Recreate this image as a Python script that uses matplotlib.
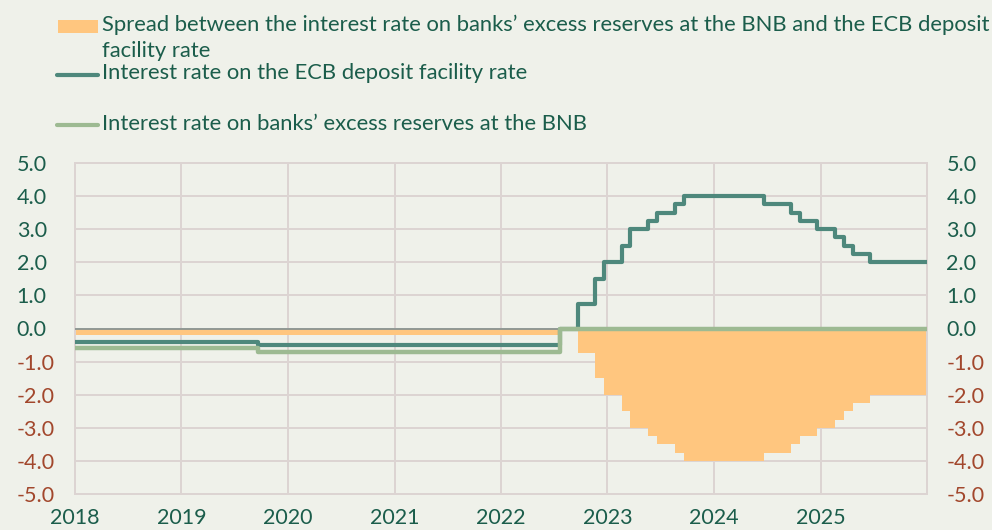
import matplotlib
matplotlib.use("Agg")
import matplotlib.pyplot as plt
from matplotlib.lines import Line2D
from matplotlib.patches import Rectangle
import pandas as pd

# ---- data (step change dates) ----
ecb_dates = ["2018-01-01", "2019-09-21", "2022-07-21", "2022-09-21", "2022-11-21",
             "2022-12-21", "2023-02-21", "2023-03-21", "2023-05-21", "2023-06-21",
             "2023-08-21", "2023-09-21", "2024-06-21", "2024-09-21", "2024-10-21",
             "2024-12-21", "2025-02-21", "2025-03-21", "2025-04-21", "2025-06-21",
             "2026-01-01"]
ecb_rate = [-0.40, -0.50, 0.00, 0.75, 1.50, 2.00, 2.50, 3.00, 3.25, 3.50,
            3.75, 4.00, 3.75, 3.50, 3.25, 3.00, 2.75, 2.50, 2.25, 2.00, 2.00]

bnb_dates = ["2018-01-01", "2019-09-21", "2022-07-21", "2026-01-01"]
bnb_rate = [-0.60, -0.70, 0.00, 0.00]

spread_dates = ecb_dates
spread = [-0.20, -0.20, 0.00, -0.75, -1.50, -2.00, -2.50, -3.00, -3.25, -3.50,
          -3.75, -4.00, -3.75, -3.50, -3.25, -3.00, -2.75, -2.50, -2.25, -2.00, -2.00]

year_ticks = ["2018", "2019", "2020", "2021", "2022", "2023", "2024", "2025"]
y_ticks = [5, 4, 3, 2, 1, 0, -1, -2, -3, -4, -5]

legend_labels = ["Spread between the interest rate on banks\u2019 excess reserves at the BNB and the ECB deposit\nfacility rate",
                 "Interest rate on the ECB deposit facility rate",
                 "Interest rate on banks\u2019 excess reserves at the BNB"]

# ---- style ----
BG = "#eff1ea"
C_ORANGE = "#ffc67f"
C_ECB = "#4e887c"
C_BNB = "#9dba92"
C_GRID = "#dcd4d2"
C_TEXT = "#1b5d4b"
C_NEG = "#a2472c"
FONT = ["Lato", "DejaVu Sans"]
plt.rcParams["font.family"] = FONT

fig = plt.figure(figsize=(9.92, 5.30), dpi=100, facecolor=BG)
ax = fig.add_axes([75/992, 1-494/530, (927-75)/992, (494-163)/530])
ax.set_facecolor(BG)

ed = pd.to_datetime(ecb_dates)
bd = pd.to_datetime(bnb_dates)
sd = pd.to_datetime(spread_dates)

ax.fill_between(sd, spread, 0, step="post", color=C_ORANGE, linewidth=0, zorder=2)
ax.axhline(0, color="#8a9491", linewidth=1.3, zorder=3)
ax.step(ed, ecb_rate, where="post", color=C_ECB, linewidth=3.0, zorder=4,
        solid_joinstyle="round")
ax.step(bd, bnb_rate, where="post", color=C_BNB, linewidth=3.2, zorder=5,
        solid_joinstyle="round")

ax.set_xlim(pd.Timestamp("2018-01-01"), pd.Timestamp("2026-01-01"))
ax.set_ylim(-5, 5)

ax.set_xticks(pd.to_datetime([y + "-01-01" for y in year_ticks] + ["2026-01-01"]))
ax.set_xticklabels(year_ticks + [""])
ax.set_yticks(y_ticks)
ax.grid(True, color=C_GRID, linewidth=1.4, zorder=0)
ax.set_axisbelow(True)
for s in ax.spines.values():
    s.set_color(C_GRID)
    s.set_linewidth(1.4)
ax.tick_params(axis="both", length=0)
ax.tick_params(axis="x", pad=10, labelsize=15.5, labelcolor=C_TEXT)

ylabels = [f"{v:.1f}" for v in y_ticks]
ax.set_yticklabels(ylabels, fontsize=15.5)
ax.tick_params(axis="y", pad=42)
for lab, v in zip(ax.get_yticklabels(), y_ticks):
    lab.set_horizontalalignment("left")
    lab.set_color(C_NEG if v < 0 else C_TEXT)

ax2 = ax.twinx()
ax2.set_ylim(-5, 5)
ax2.set_yticks(y_ticks)
ax2.set_yticklabels(ylabels, fontsize=15.5)
ax2.tick_params(axis="y", length=0, pad=14)
for lab, v in zip(ax2.get_yticklabels(), y_ticks):
    lab.set_color(C_NEG if v < 0 else C_TEXT)
for s in ax2.spines.values():
    s.set_visible(False)

# legend (manual)
def fx(px):
    return px / 992
def fy(py):
    return 1 - py / 530

fig.patches.append(Rectangle((fx(58), fy(33)), fx(98) - fx(58), fy(20) - fy(33),
                             transform=fig.transFigure, color=C_ORANGE, linewidth=0))
fig.lines.append(Line2D([fx(57), fx(98)], [fy(75), fy(75)], transform=fig.transFigure,
                        color=C_ECB, linewidth=3.0, solid_capstyle="round"))
fig.lines.append(Line2D([fx(57), fx(98)], [fy(125), fy(125)], transform=fig.transFigure,
                        color=C_BNB, linewidth=3.0, solid_capstyle="round"))
LS = 15.8
fig.text(fx(102), fy(25), legend_labels[0].split("\n")[0], fontsize=LS, color=C_TEXT,
         va="center", ha="left")
fig.text(fx(102), fy(51), legend_labels[0].split("\n")[1], fontsize=LS, color=C_TEXT,
         va="center", ha="left")
fig.text(fx(102), fy(73), legend_labels[1], fontsize=LS, color=C_TEXT, va="center", ha="left")
fig.text(fx(102), fy(124), legend_labels[2], fontsize=LS, color=C_TEXT, va="center", ha="left")

fig.savefig("out.png", dpi=100, facecolor=BG)
